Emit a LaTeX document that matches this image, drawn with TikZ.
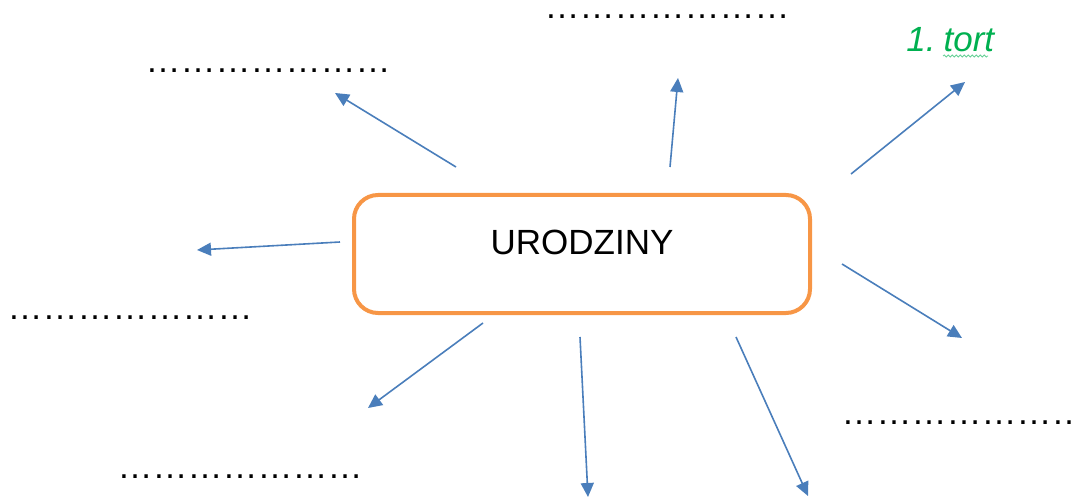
\documentclass[tikz,border=0pt]{standalone}
\usepackage{fontspec}
\setmainfont{Liberation Sans}
\usepackage{tikz}
\usetikzlibrary{arrows.meta}
\usetikzlibrary{decorations.pathmorphing}
\definecolor{boxorange}{HTML}{F79646}
\definecolor{arrowblue}{HTML}{4A7EBB}
\definecolor{tortgreen}{HTML}{00B050}
\newcommand{\blankdots}{…………………}

\begin{document}
\begin{tikzpicture}[x=0.5pt, y=-0.5pt,
mainbox/.style={rectangle, rounded corners=12pt, draw=boxorange, line width=2pt, minimum width=228pt, inner sep=0pt, text height=30pt, text depth=29pt, font=\fontsize{17.5}{20}\selectfont},
dotline/.style={inner sep=0pt, anchor=base, text height=2pt, text depth=0pt, font=\fontsize{17.5}{20}\selectfont},
arrowline/.style={draw=arrowblue, line width=0.8pt, -{Triangle[length=7pt, width=6.5pt]}},
]
\useasboundingbox (0,0) rectangle (1075,497);
%Nodes
\node[mainbox] (box) at (582,254) {URODZINY};
\node[dotline] (d1) at (667,19)  {\blankdots};
\node[dotline] (d2) at (268,73)  {\blankdots};
\node[dotline] (d3) at (130,319) {\blankdots};
\node[dotline] (d4) at (240,478) {\blankdots};
\node[dotline] (d5) at (964,424) {\blankdots};
\node[inner sep=0pt, anchor=base west, text=tortgreen, font=\fontsize{17.5}{20}\selectfont\itshape] (tort) at (906,52) {1.\hspace{4pt}tort};

%Arrow ends
\coordinate (s1) at (456,167); \coordinate (e1) at (335,93);
\coordinate (s2) at (670,167); \coordinate (e2) at (678,78);
\coordinate (s3) at (851,174); \coordinate (e3) at (965,82);
\coordinate (s4) at (340,242); \coordinate (e4) at (197,250);
\coordinate (s5) at (842,264); \coordinate (e5) at (962,338);
\coordinate (s6) at (483,323); \coordinate (e6) at (368,408);
\coordinate (s7) at (580,337); \coordinate (e7) at (588,497);
\coordinate (s8) at (736,337); \coordinate (e8) at (808,496);
\coordinate (w1) at (943,56);  \coordinate (w2) at (988,56);

%Lines
\draw[arrowline] (s1) -- (e1);
\draw[arrowline] (s2) -- (e2);
\draw[arrowline] (s3) -- (e3);
\draw[arrowline] (s4) -- (e4);
\draw[arrowline] (s5) -- (e5);
\draw[arrowline] (s6) -- (e6);
\draw[arrowline] (s7) -- (e7);
\draw[arrowline] (s8) -- (e8);

\draw[tortgreen!60, line width=0.4pt, decorate, decoration={snake, amplitude=0.5pt, segment length=2pt}] (w1) -- (w2);
\end{tikzpicture}
\end{document}
